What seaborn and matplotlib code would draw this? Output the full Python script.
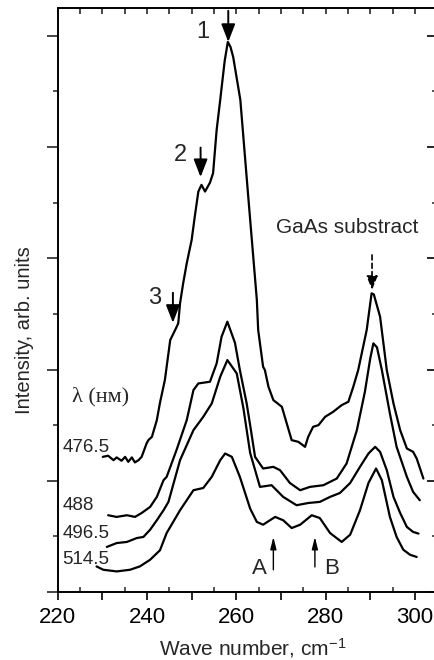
import numpy as np
import pandas as pd
import seaborn as sns
import matplotlib
matplotlib.use("Agg")
import matplotlib.pyplot as plt
from matplotlib.ticker import MultipleLocator, FuncFormatter

# ---- data ----
x_4765 = [230.1, 231.3, 232.5, 233.2, 234.3, 235.1, 235.8, 236.6, 237.3, 238.1, 238.8, 239.9, 240.3, 241.1,
          242.2, 242.9, 244.0, 245.2, 246.3, 247.0, 247.4, 248.1, 248.9, 250.0, 250.7, 251.5, 252.2, 253.0,
          254.1, 254.8, 255.6, 256.4, 257.4, 258.1, 258.7, 259.3, 260.9, 262.6, 264.6, 264.9, 266.0, 266.4,
          267.2, 268.3, 270.2, 271.3, 272.4, 273.9, 275.4, 276.1, 277.2, 278.4, 279.9, 281.7, 283.6, 285.1,
          286.2, 287.3, 289.2, 290.3, 290.8, 292.2, 293.7, 295.2, 296.7, 298.2, 299.6, 300.4, 301.9]
y_4765 = [2.43, 2.45, 2.37, 2.42, 2.36, 2.43, 2.34, 2.42, 2.33, 2.37, 2.43, 2.67, 2.73, 2.79,
          3.09, 3.40, 3.81, 4.53, 4.71, 4.83, 5.19, 5.55, 5.91, 6.33, 6.75, 7.20, 7.32, 7.20,
          7.36, 7.53, 8.31, 8.85, 9.55, 9.89, 9.80, 9.62, 8.85, 7.18, 5.25, 4.71, 4.05, 3.99,
          3.69, 3.45, 3.33, 3.03, 2.73, 2.70, 2.61, 2.79, 2.97, 3.00, 3.15, 3.24, 3.36, 3.42,
          3.69, 3.99, 4.71, 5.37, 5.35, 4.95, 3.99, 3.39, 2.91, 2.58, 2.52, 2.40, 2.04]

x_488 = [231.3, 233.2, 235.5, 237.3, 238.8, 240.7, 242.2, 243.7, 244.4, 246.6, 248.9, 250.4, 251.5, 254.1,
         255.6, 256.7, 258.0, 259.7, 260.8, 262.3, 263.1, 264.2, 266.0, 268.3, 269.8, 272.0, 274.3, 276.5,
         279.5, 282.5, 284.7, 287.0, 288.8, 290.0, 290.7, 291.5, 292.6, 294.4, 295.9, 298.2, 299.6, 301.1]
y_488 = [1.38, 1.35, 1.38, 1.35, 1.42, 1.53, 1.71, 2.01, 2.07, 2.55, 3.09, 3.63, 3.75, 3.78,
         4.11, 4.59, 4.86, 4.48, 3.99, 3.40, 3.00, 2.43, 2.22, 2.25, 2.19, 1.96, 1.83, 1.89,
         1.92, 2.04, 2.31, 2.91, 3.60, 4.20, 4.47, 4.40, 3.99, 3.21, 2.61, 2.07, 1.80, 1.65]

x_4965 = [231.0, 233.2, 235.5, 237.7, 239.2, 240.7, 242.2, 243.7, 244.8, 247.4, 250.4, 252.6, 254.5, 256.4,
          258.0, 260.1, 261.6, 263.1, 265.3, 267.9, 270.5, 273.5, 276.1, 278.7, 281.0, 283.2, 285.5, 287.7,
          289.6, 291.1, 292.2, 293.7, 295.2, 296.7, 298.2, 299.6, 300.8]
y_4965 = [0.81, 0.88, 0.90, 0.97, 0.99, 1.12, 1.29, 1.47, 1.62, 2.37, 2.91, 3.15, 3.39, 3.87,
          4.17, 3.93, 3.30, 2.50, 1.89, 1.92, 1.71, 1.56, 1.60, 1.62, 1.71, 1.78, 1.96, 2.25,
          2.49, 2.61, 2.52, 2.19, 1.71, 1.42, 1.17, 1.08, 1.05]

x_5145 = [228.7, 230.2, 233.2, 236.2, 238.4, 240.7, 242.9, 244.4, 247.4, 250.4, 252.6, 254.5, 256.4, 257.5,
          259.0, 260.8, 263.1, 264.6, 266.0, 268.7, 270.5, 272.4, 274.3, 276.9, 278.7, 281.0, 283.6, 285.5,
          287.7, 289.6, 291.3, 292.6, 294.4, 295.9, 297.4, 298.9, 300.4]
y_5145 = [0.46, 0.40, 0.37, 0.40, 0.46, 0.58, 0.75, 1.06, 1.47, 1.83, 1.87, 2.07, 2.37, 2.49,
          2.43, 2.07, 1.50, 1.26, 1.21, 1.35, 1.29, 1.15, 1.21, 1.38, 1.33, 1.06, 0.90, 1.03,
          1.47, 1.96, 2.22, 2.01, 1.35, 0.99, 0.76, 0.67, 0.63]

series_names = ["476.5", "488", "496.5", "514.5"]
series_x = [x_4765, x_488, x_4965, x_5145]
series_y = [y_4765, y_488, y_4965, y_5145]
label_y = [2.59, 1.56, 1.06, 0.58]

x_ticks = [220, 240, 260, 280, 300]

df = pd.concat([pd.DataFrame({"wave": xs, "intensity": ys, "lam": n})
                for n, xs, ys in zip(series_names, series_x, series_y)], ignore_index=True)

# ---- style ----
sns.set_theme(style="ticks")
plt.rcParams["font.family"] = ["Liberation Sans", "DejaVu Sans"]
plt.rcParams["mathtext.fontset"] = "custom"
plt.rcParams["mathtext.rm"] = "Liberation Sans"
plt.rcParams["mathtext.it"] = "Liberation Sans"
plt.rcParams["mathtext.bf"] = "Liberation Sans"

fig = plt.figure(figsize=(4.35, 6.6), dpi=100)
ax = fig.add_axes([57.7 / 435, 68 / 660, (435 - 57.7) / 435, 584 / 660])

sns.lineplot(data=df, x="wave", y="intensity", hue="lam", units="lam", estimator=None,
             sort=False, palette=["black"] * 4, legend=False, linewidth=1.6, ax=ax)

ax.set_xlim(220, 304.5)
ax.set_ylim(0, 10.5)
ax.set_xlabel("")
ax.set_ylabel("")

for s in ["left", "bottom", "top"]:
    ax.spines[s].set_linewidth(1.4)
    ax.spines[s].set_color("black")
ax.spines["right"].set_visible(False)

# bottom x ticks
ax.xaxis.set_major_locator(MultipleLocator(10))
ax.xaxis.set_minor_locator(MultipleLocator(5))
ax.xaxis.set_major_formatter(FuncFormatter(lambda v, p: f"{int(round(v))}" if int(round(v)) in x_ticks else ""))
ax.tick_params(axis="x", which="major", direction="out", length=6, width=1.2, pad=5,
               labelsize=16, colors="black", top=False)
ax.tick_params(axis="x", which="minor", direction="in", length=3.5, width=1.1, top=False)

# left y ticks
ax.yaxis.set_major_locator(MultipleLocator(2))
ax.yaxis.set_minor_locator(MultipleLocator(1))
ax.tick_params(axis="y", which="major", direction="out", length=8, width=1.2, labelleft=False, right=False)
ax.tick_params(axis="y", which="minor", direction="out", length=3.5, width=1.1, right=False)

# top ticks (inward)
top = ax.secondary_xaxis("top")
top.xaxis.set_major_locator(MultipleLocator(5))
top.tick_params(axis="x", which="major", direction="in", length=4.5, width=1.2, labeltop=False)
top.spines["top"].set_visible(False)

# right ticks (inward)
right = ax.secondary_yaxis("right")
right.yaxis.set_major_locator(MultipleLocator(2))
right.yaxis.set_minor_locator(MultipleLocator(1))
right.tick_params(axis="y", which="major", direction="in", length=6, width=1.4, labelright=False)
right.tick_params(axis="y", which="minor", direction="in", length=2, width=1.1)
right.spines["right"].set_visible(False)

# ---- annotations ----
solid = dict(arrowstyle="-|>,head_length=0.9,head_width=0.35", color="black", lw=1.4, shrinkA=0, shrinkB=0)
ax.annotate("", xy=(258.2, 9.89), xytext=(258.2, 10.45), arrowprops=solid)
ax.annotate("", xy=(252.0, 7.46), xytext=(252.0, 7.99), arrowprops=solid)
ax.annotate("", xy=(245.8, 4.84), xytext=(245.8, 5.38), arrowprops=solid)
ax.text(252.5, 10.07, "1", fontsize=17, ha="center", va="center")
ax.text(247.6, 7.86, "2", fontsize=17, ha="center", va="center")
ax.text(241.8, 5.29, "3", fontsize=17, ha="center", va="center")

ax.text(284.8, 6.55, "GaAs substract", fontsize=15, ha="center", va="center")
ax.annotate("", xy=(290.4, 5.43), xytext=(290.4, 6.06),
            arrowprops=dict(arrowstyle="-|>,head_length=0.7,head_width=0.28", color="black",
                            lw=1.2, ls=(0, (3, 2)), shrinkA=0, shrinkB=0))

thin = dict(arrowstyle="-|>,head_length=0.6,head_width=0.15", color="black", lw=1.0, shrinkA=0, shrinkB=0)
ax.annotate("", xy=(268.3, 0.99), xytext=(268.3, 0.40), arrowprops=thin)
ax.annotate("", xy=(277.6, 0.99), xytext=(277.6, 0.45), arrowprops=thin)
ax.text(265.1, 0.43, "A", fontsize=16, ha="center", va="center")
ax.text(281.4, 0.43, "B", fontsize=16, ha="center", va="center")

ax.text(223.2, 3.51, "λ (нм)", fontsize=16, ha="left", va="center",
        family=["Liberation Serif", "DejaVu Serif"])
for name, yl in zip(series_names, label_y):
    ax.text(221.0, yl, name, fontsize=13.5, ha="left", va="center")

fig.text(25 / 435, 1 - 330 / 660, "Intensity, arb. units", rotation=90, fontsize=14.5,
         ha="center", va="center")
fig.text(253 / 435, 1 - 648 / 660, "Wave number, cm$^{-1}$", fontsize=15, ha="center", va="center")

fig.savefig("out.png", dpi=100, facecolor="white")
